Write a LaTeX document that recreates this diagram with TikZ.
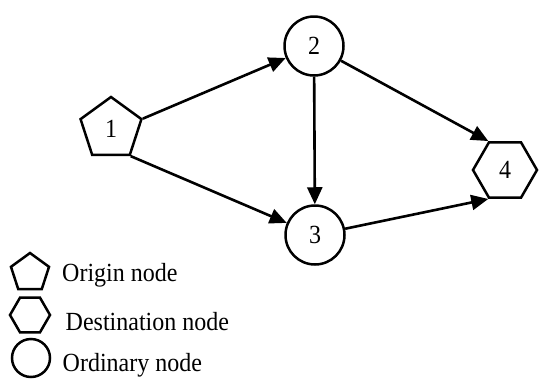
\documentclass[tikz,border=0pt]{standalone}
\usepackage{fontspec}
\setmainfont{Liberation Serif}
\usetikzlibrary{shapes.geometric,arrows.meta}
% text slightly taller than the regular face
\newcommand{\tallfont}[1]{\scalebox{1}[1.09]{#1}}
\begin{document}
\begin{tikzpicture}[x=1pt,y=-1pt,
  every node/.style={font=\fontsize{24}{28}\selectfont},
  shp/.style={draw=black,line width=2.5pt,inner sep=0pt},
  origin/.style={shp,regular polygon,regular polygon sides=5},
  dest/.style={shp,regular polygon,regular polygon sides=6},
  ordinary/.style={shp,circle},
  edge/.style={line width=2.6pt,-{Triangle[length=17pt,width=15pt]}},
  legtext/.style={anchor=base west,inner sep=0pt}]
\useasboundingbox (0,0) rectangle (539,381);
% network
\node[origin,minimum size=64pt] (n1) at (111,129) {\tallfont{1}};
\node[ordinary,minimum size=59pt] (n2) at (314,46) {\tallfont{2}};
\node[ordinary,minimum size=59pt] (n3) at (315,235) {\tallfont{3}};
\node[dest,minimum size=64pt] (n4) at (505,170) {\tallfont{4}};
\draw[edge] (n1.corner 5) -- (n2);
\draw[edge] (n1.corner 4) -- (n3);
\draw[edge] (n2) -- (n3);
\draw[edge] (n2) -- (n4.120);
\draw[edge] (n3) -- (n4.240);
% legend
\node[origin,minimum size=40pt] (lo) at (30,273) {};
\node[dest,minimum size=40pt] (ld) at (30,315) {};
\node[ordinary,minimum size=38pt] (lc) at (31,358) {};
\node[legtext] (to) at (62,281) {\tallfont{Origin node}};
\node[legtext] (td) at (65.5,330.5) {\tallfont{Destination node}};
\node[legtext] (tc) at (62.5,371.5) {\tallfont{Ordinary node}};
\end{tikzpicture}
\end{document}
